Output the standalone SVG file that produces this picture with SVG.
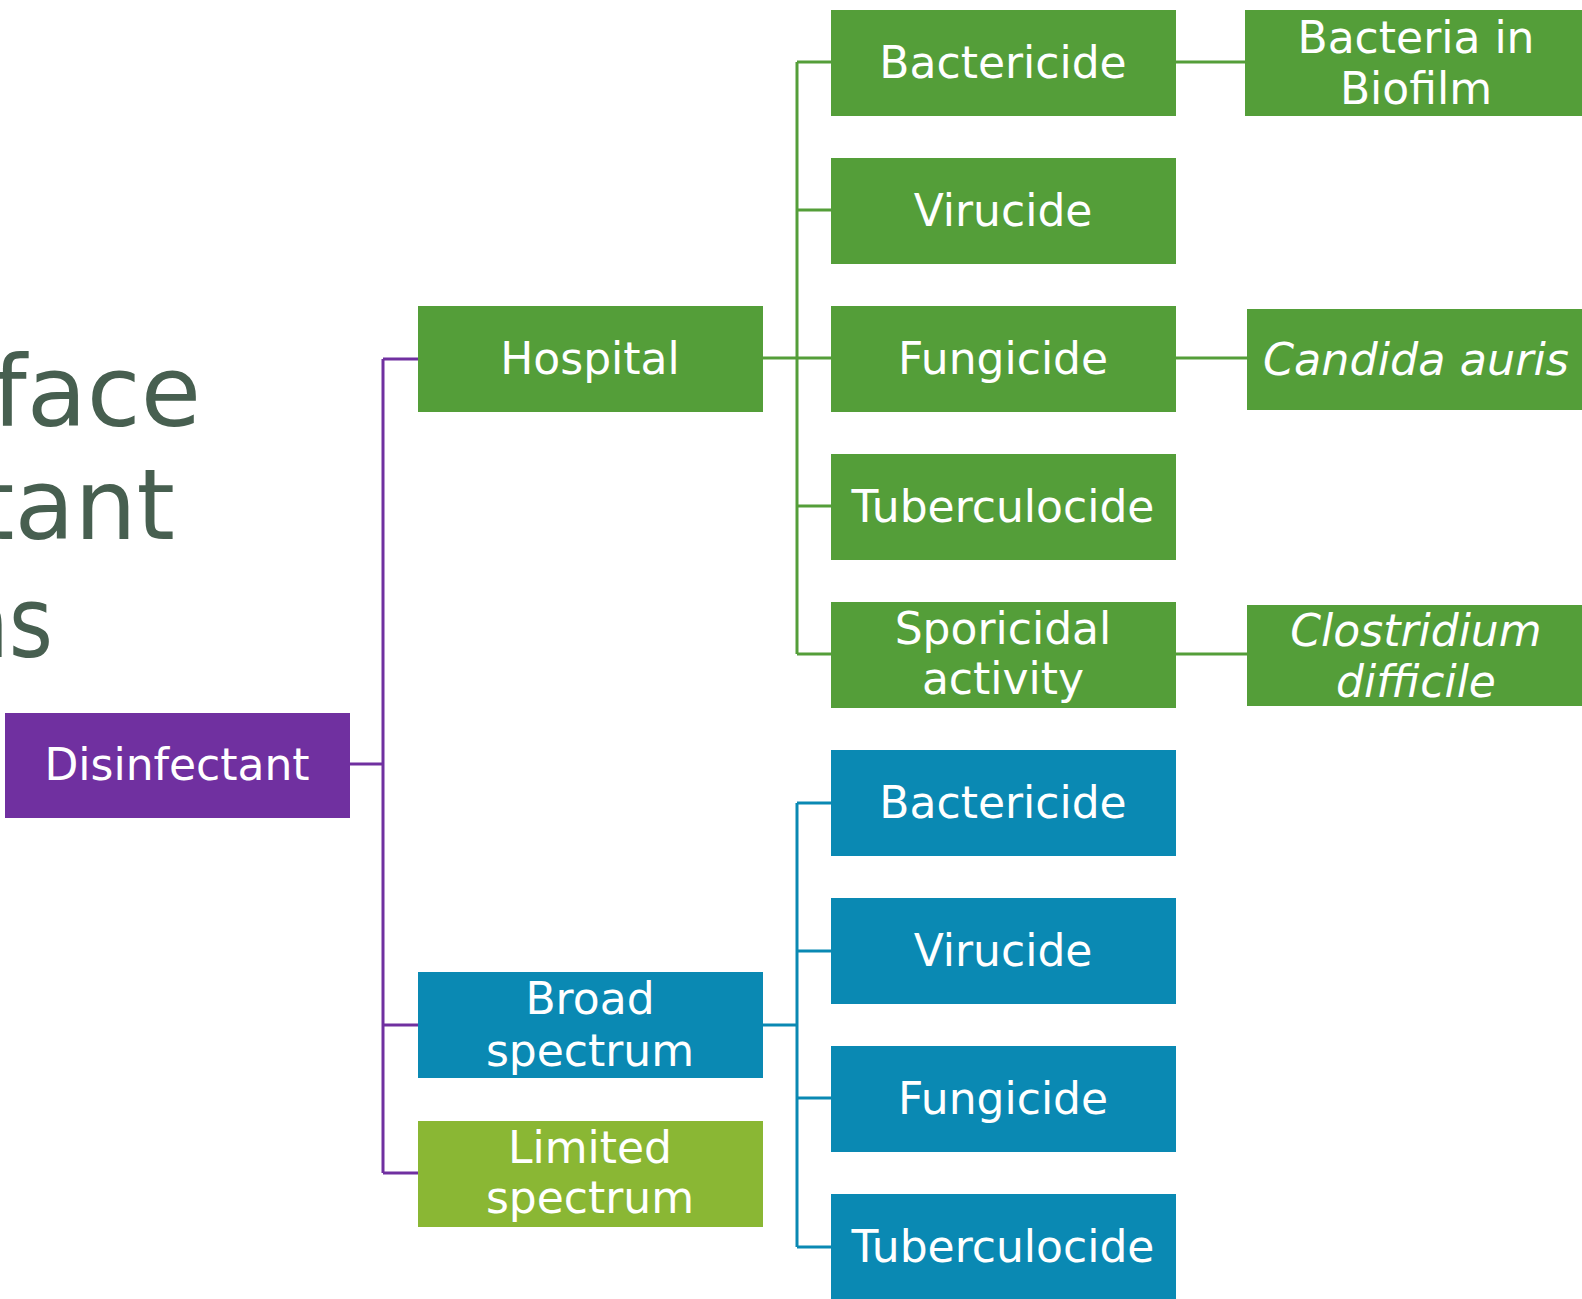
<svg xmlns="http://www.w3.org/2000/svg" width="1582" height="1299" viewBox="0 0 1582 1299">
<style>
.g{fill:#549E39}
.b{fill:#0A89B3}
.p{fill:#7030A0}
.l{fill:#8AB734}
.t{font-family:"DejaVu Sans",sans-serif;font-size:44px;fill:#FFFFFF;text-anchor:middle}
.i{font-style:italic}
.title{font-family:"DejaVu Sans",sans-serif;font-size:98px;fill:#475F50;text-anchor:end}
.cg{stroke:#549E39;stroke-width:3;fill:none}
.cb{stroke:#0A89B3;stroke-width:3;fill:none}
.cp{stroke:#7030A0;stroke-width:3;fill:none}
</style>
<rect width="1582" height="1299" fill="#FFFFFF"/>
<g id="title">
<text class="title" x="201" y="426">face</text>
<text class="title" x="175" y="539">tant</text>
<text class="title" x="-45" y="657" style="text-anchor:start" textLength="98" lengthAdjust="spacingAndGlyphs">ns</text>
</g>
<g id="connectors">
<path class="cp" d="M350 764H383M383 359V1173M383 359H418M383 1025H418M383 1173H418"/>
<path class="cg" d="M763 358H831M797 62V654M797 62H831M797 210H831M797 506H831M797 654H831"/>
<path class="cg" d="M1176 62H1245M1176 358H1247M1176 654H1247"/>
<path class="cb" d="M763 1025H797M797 803V1247M797 803H831M797 951H831M797 1098H831M797 1247H831"/>
</g>
<g id="disinfectant"><rect class="p" x="5" y="713" width="345" height="105"/><text class="t" x="177" y="780">Disinfectant</text></g>
<g id="hospital"><rect class="g" x="418" y="306" width="345" height="106"/><text class="t" x="590" y="374">Hospital</text></g>
<g id="broad"><rect class="b" x="418" y="972" width="345" height="106"/><text class="t" x="590" y="1014">Broad</text><text class="t" x="590" y="1066">spectrum</text></g>
<g id="limited"><rect class="l" x="418" y="1121" width="345" height="106"/><text class="t" x="590" y="1163">Limited</text><text class="t" x="590" y="1213">spectrum</text></g>
<g id="h-bactericide"><rect class="g" x="831" y="10" width="345" height="106"/><text class="t" x="1003" y="78">Bactericide</text></g>
<g id="h-virucide"><rect class="g" x="831" y="158" width="345" height="106"/><text class="t" x="1003" y="226">Virucide</text></g>
<g id="h-fungicide"><rect class="g" x="831" y="306" width="345" height="106"/><text class="t" x="1003" y="374">Fungicide</text></g>
<g id="h-tuberculocide"><rect class="g" x="831" y="454" width="345" height="106"/><text class="t" x="1003" y="522">Tuberculocide</text></g>
<g id="h-sporicidal"><rect class="g" x="831" y="602" width="345" height="106"/><text class="t" x="1003" y="644">Sporicidal</text><text class="t" x="1003" y="694">activity</text></g>
<g id="biofilm"><rect class="g" x="1245" y="10" width="337" height="106"/><text class="t" x="1416" y="53">Bacteria in</text><text class="t" x="1416" y="104">Biofilm</text></g>
<g id="candida"><rect class="g" x="1247" y="309" width="335" height="101"/><text class="t i" x="1416" y="375" textLength="306" lengthAdjust="spacingAndGlyphs">Candida auris</text></g>
<g id="clostridium"><rect class="g" x="1247" y="605" width="335" height="101"/><text class="t i" x="1416" y="646">Clostridium</text><text class="t i" x="1416" y="697">difficile</text></g>
<g id="b-bactericide"><rect class="b" x="831" y="750" width="345" height="106"/><text class="t" x="1003" y="818">Bactericide</text></g>
<g id="b-virucide"><rect class="b" x="831" y="898" width="345" height="106"/><text class="t" x="1003" y="966">Virucide</text></g>
<g id="b-fungicide"><rect class="b" x="831" y="1046" width="345" height="106"/><text class="t" x="1003" y="1114">Fungicide</text></g>
<g id="b-tuberculocide"><rect class="b" x="831" y="1194" width="345" height="106"/><text class="t" x="1003" y="1262">Tuberculocide</text></g>
</svg>
